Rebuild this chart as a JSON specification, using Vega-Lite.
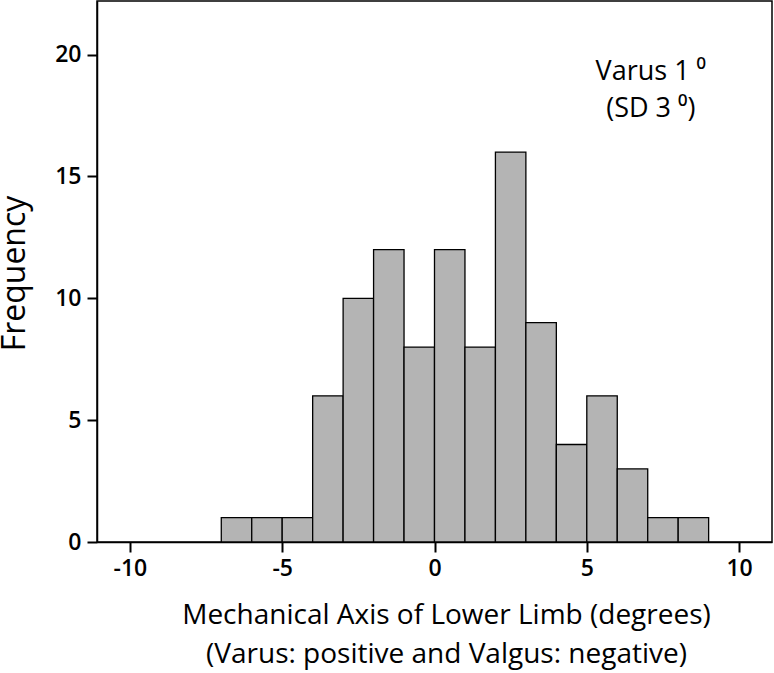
{
  "$schema": "https://vega.github.io/schema/vega-lite/v6.json",
  "width": 675,
  "height": 541,
  "autosize": "none",
  "padding": {"left": 97, "top": 1, "right": 2, "bottom": 131},
  "background": "white",
  "config": {
    "view": {"stroke": "black", "strokeWidth": 1.5},
    "font": "Open Sans"
  },
  "layer": [
    {
      "data": {
        "values": [
          {"bin_start": -7, "bin_end": -6, "count": 1},
          {"bin_start": -6, "bin_end": -5, "count": 1},
          {"bin_start": -5, "bin_end": -4, "count": 1},
          {"bin_start": -4, "bin_end": -3, "count": 6},
          {"bin_start": -3, "bin_end": -2, "count": 10},
          {"bin_start": -2, "bin_end": -1, "count": 12},
          {"bin_start": -1, "bin_end": 0, "count": 8},
          {"bin_start": 0, "bin_end": 1, "count": 12},
          {"bin_start": 1, "bin_end": 2, "count": 8},
          {"bin_start": 2, "bin_end": 3, "count": 16},
          {"bin_start": 3, "bin_end": 4, "count": 9},
          {"bin_start": 4, "bin_end": 5, "count": 4},
          {"bin_start": 5, "bin_end": 6, "count": 6},
          {"bin_start": 6, "bin_end": 7, "count": 3},
          {"bin_start": 7, "bin_end": 8, "count": 1},
          {"bin_start": 8, "bin_end": 9, "count": 1}
        ]
      },
      "mark": {"type": "rect", "fill": "#b4b4b4", "stroke": "black", "strokeWidth": 1.3},
      "encoding": {
        "x": {
          "field": "bin_start",
          "type": "quantitative",
          "scale": {"domain": [-11.08, 11.08], "nice": false, "zero": false},
          "axis": {
            "values": [-10, -5, 0, 5, 10],
            "labelExpr": "toString(datum.value)",
            "grid": false,
            "domainColor": "black",
            "domainWidth": 1.5,
            "tickColor": "black",
            "tickSize": 10,
            "tickWidth": 2,
            "labelFontSize": 23,
            "labelFontWeight": 600,
            "labelColor": "black",
            "labelPadding": 5,
            "title": ["Mechanical Axis of Lower Limb (degrees)", "(Varus: positive and Valgus: negative)"],
            "titleFontSize": 28,
            "titleFontWeight": "normal",
            "titleColor": "black",
            "titleX": 349,
            "titleY": 81,
            "titleAlign": "center",
            "titleBaseline": "alphabetic",
            "titleLineHeight": 39
          }
        },
        "x2": {"field": "bin_end"},
        "y": {
          "field": "count",
          "type": "quantitative",
          "scale": {"domain": [0, 22.2], "nice": false},
          "axis": {
            "values": [0, 5, 10, 15, 20],
            "grid": false,
            "domainColor": "black",
            "domainWidth": 1.5,
            "tickColor": "black",
            "tickSize": 10,
            "tickWidth": 2,
            "labelFontSize": 23,
            "labelFontWeight": 600,
            "labelColor": "black",
            "labelPadding": 6,
            "title": "Frequency",
            "titleFontSize": 32,
            "titleFontWeight": "normal",
            "titleColor": "black",
            "titleX": -83,
            "titleY": 272,
            "titleAngle": -90,
            "titleAlign": "center",
            "titleBaseline": "middle"
          }
        },
        "y2": {"datum": 0}
      }
    },
    {
      "data": {
        "values": [
          {"x": 7.1, "y": 19.3, "label": "Varus 1 ⁰"},
          {"x": 7.1, "y": 17.75, "label": "(SD 3 ⁰)"}
        ]
      },
      "mark": {"type": "text", "fontSize": 27, "align": "center", "baseline": "middle", "color": "black", "font": "Open Sans"},
      "encoding": {
        "x": {"field": "x", "type": "quantitative"},
        "y": {"field": "y", "type": "quantitative"},
        "text": {"field": "label"}
      }
    }
  ]
}
